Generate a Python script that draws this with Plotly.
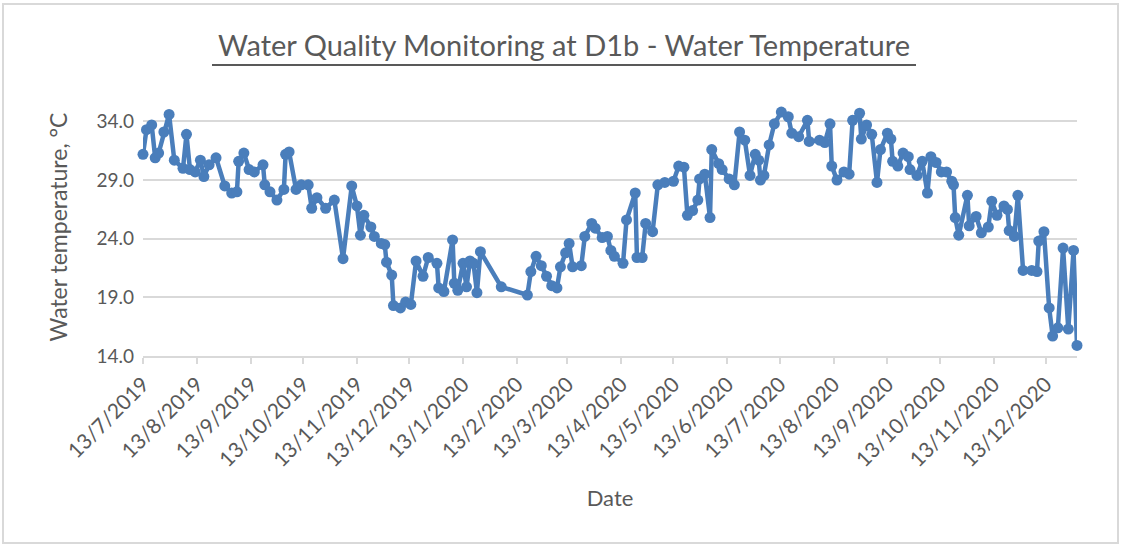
import plotly.graph_objects as go

dates = [
    "2019-07-13", "2019-07-15", "2019-07-18", "2019-07-20", "2019-07-22", "2019-07-25", "2019-07-28", "2019-07-31",
    "2019-08-05", "2019-08-07", "2019-08-09", "2019-08-12", "2019-08-15", "2019-08-17", "2019-08-20", "2019-08-24",
    "2019-08-29", "2019-09-02", "2019-09-05", "2019-09-06", "2019-09-09", "2019-09-12", "2019-09-15", "2019-09-20",
    "2019-09-21", "2019-09-24", "2019-09-28", "2019-10-02", "2019-10-03", "2019-10-05", "2019-10-09", "2019-10-12",
    "2019-10-16", "2019-10-18", "2019-10-21", "2019-10-26", "2019-10-31", "2019-11-05", "2019-11-10", "2019-11-13",
    "2019-11-15", "2019-11-17", "2019-11-21", "2019-11-23", "2019-11-27", "2019-11-29", "2019-11-30", "2019-12-03",
    "2019-12-04", "2019-12-08", "2019-12-11", "2019-12-14", "2019-12-17", "2019-12-21", "2019-12-24", "2019-12-29",
    "2019-12-30", "2020-01-02", "2020-01-07", "2020-01-08", "2020-01-10", "2020-01-13", "2020-01-15", "2020-01-17",
    "2020-01-19", "2020-01-21", "2020-01-23", "2020-02-04", "2020-02-19", "2020-02-21", "2020-02-24", "2020-02-27",
    "2020-03-01", "2020-03-04", "2020-03-07", "2020-03-09", "2020-03-12", "2020-03-14", "2020-03-16", "2020-03-21",
    "2020-03-23", "2020-03-27", "2020-03-29", "2020-04-02", "2020-04-05", "2020-04-07", "2020-04-09", "2020-04-14",
    "2020-04-16", "2020-04-21", "2020-04-22", "2020-04-25", "2020-04-27", "2020-05-01", "2020-05-04", "2020-05-08",
    "2020-05-13", "2020-05-16", "2020-05-19", "2020-05-21", "2020-05-24", "2020-05-27", "2020-05-28", "2020-05-31",
    "2020-06-03", "2020-06-04", "2020-06-08", "2020-06-10", "2020-06-14", "2020-06-17", "2020-06-20", "2020-06-23",
    "2020-06-26", "2020-06-29", "2020-07-01", "2020-07-02", "2020-07-04", "2020-07-07", "2020-07-10", "2020-07-14",
    "2020-07-18", "2020-07-20", "2020-07-24", "2020-07-29", "2020-07-30", "2020-08-05", "2020-08-08", "2020-08-11",
    "2020-08-12", "2020-08-15", "2020-08-19", "2020-08-22", "2020-08-24", "2020-08-28", "2020-08-29", "2020-09-01",
    "2020-09-04", "2020-09-07", "2020-09-09", "2020-09-13", "2020-09-15", "2020-09-16", "2020-09-19", "2020-09-22",
    "2020-09-25", "2020-09-26", "2020-09-30", "2020-10-03", "2020-10-06", "2020-10-08", "2020-10-11", "2020-10-14",
    "2020-10-17", "2020-10-20", "2020-10-21", "2020-10-22", "2020-10-24", "2020-10-29", "2020-10-30", "2020-11-03",
    "2020-11-06", "2020-11-10", "2020-11-12", "2020-11-15", "2020-11-19", "2020-11-21", "2020-11-22", "2020-11-25",
    "2020-11-27", "2020-11-30", "2020-12-05", "2020-12-08", "2020-12-09", "2020-12-12", "2020-12-15", "2020-12-17",
    "2020-12-20", "2020-12-23", "2020-12-26", "2020-12-29", "2020-12-31",
]

water_temp = [
    31.2, 33.3, 33.7, 30.9, 31.3, 33.1, 34.6, 30.7,
    30.0, 32.9, 29.9, 29.7, 30.7, 29.3, 30.3, 30.9,
    28.5, 27.9, 28.0, 30.6, 31.3, 29.9, 29.7, 30.3,
    28.6, 28.0, 27.3, 28.2, 31.2, 31.4, 28.2, 28.6,
    28.6, 26.6, 27.5, 26.6, 27.3, 22.3, 28.5, 26.8,
    24.3, 26.0, 25.0, 24.2, 23.6, 23.5, 22.0, 20.9,
    18.3, 18.1, 18.6, 18.4, 22.1, 20.8, 22.4, 21.9,
    19.8, 19.5, 23.9, 20.2, 19.6, 21.9, 19.9, 22.1,
    21.9, 19.4, 22.9, 19.9, 19.2, 21.2, 22.5, 21.7,
    20.8, 20.0, 19.8, 21.6, 22.8, 23.6, 21.6, 21.7,
    24.2, 25.3, 24.9, 24.1, 24.2, 23.0, 22.5, 21.9,
    25.6, 27.9, 22.4, 22.4, 25.3, 24.6, 28.6, 28.8,
    28.9, 30.2, 30.1, 26.0, 26.4, 27.3, 29.1, 29.5,
    25.8, 31.6, 30.4, 29.9, 29.1, 28.6, 33.1, 32.4,
    29.4, 31.2, 30.7, 29.0, 29.4, 32.0, 33.8, 34.8,
    34.4, 33.0, 32.7, 34.1, 32.3, 32.4, 32.2, 33.8,
    30.2, 29.0, 29.7, 29.5, 34.1, 34.7, 32.5, 33.7,
    32.9, 28.8, 31.6, 33.0, 32.5, 30.6, 30.2, 31.3,
    31.0, 29.9, 29.4, 30.6, 27.9, 31.0, 30.5, 29.7,
    29.7, 28.9, 28.6, 25.8, 24.3, 27.7, 25.1, 25.9,
    24.5, 25.0, 27.2, 26.0, 26.8, 26.5, 24.7, 24.2,
    27.7, 21.3, 21.3, 21.2, 23.8, 24.6, 18.1, 15.7,
    16.4, 23.2, 16.3, 23.0, 14.9,
]

tick_dates = [
    "2019-07-13", "2019-08-13", "2019-09-13", "2019-10-13", "2019-11-13", "2019-12-13",
    "2020-01-13", "2020-02-13", "2020-03-13", "2020-04-13", "2020-05-13", "2020-06-13",
    "2020-07-13", "2020-08-13", "2020-09-13", "2020-10-13", "2020-11-13", "2020-12-13",
]
tick_labels = [
    "13/7/2019", "13/8/2019", "13/9/2019", "13/10/2019", "13/11/2019", "13/12/2019",
    "13/1/2020", "13/2/2020", "13/3/2020", "13/4/2020", "13/5/2020", "13/6/2020",
    "13/7/2020", "13/8/2020", "13/9/2020", "13/10/2020", "13/11/2020", "13/12/2020",
]
y_ticks = [14, 19, 24, 29, 34]

title_text = "Water Quality Monitoring at D1b - Water Temperature"
x_title = "Date"
y_title = "Water temperature, °C"

FONT = "Lato"
TEXT_COLOR = "#595959"
GRID = "#d9d9d9"
BLUE = "#4a7ebb"

fig = go.Figure()
fig.add_trace(go.Scatter(
    x=dates, y=water_temp, mode="lines+markers",
    line=dict(color=BLUE, width=4.5),
    marker=dict(color=BLUE, size=11),
    cliponaxis=False,
    showlegend=False,
))

fig.update_layout(
    width=1122, height=546,
    margin=dict(l=143, r=45, t=98, b=190, autoexpand=False),
    paper_bgcolor="white", plot_bgcolor="white",
    font=dict(family=FONT, color=TEXT_COLOR),
    title=dict(text=title_text, x=564 / 1122, xref="container", xanchor="center",
               y=1 - 46 / 546, yref="container", yanchor="middle",
               font=dict(family=FONT, size=29, color=TEXT_COLOR)),
    xaxis=dict(
        type="date", range=["2019-07-13", "2020-12-31"],
        tickvals=tick_dates, ticktext=tick_labels, tickangle=-45,
        tickfont=dict(family=FONT, size=21, color=TEXT_COLOR),
        showgrid=False, showline=True, linecolor=GRID, linewidth=1.5,
        ticks="outside", ticklen=6, tickcolor=GRID, tickwidth=1.5,
        zeroline=False, automargin=False,
        title=dict(text=x_title, font=dict(family=FONT, size=22, color=TEXT_COLOR), standoff=21),
    ),
    yaxis=dict(
        range=[14, 36], tickvals=y_ticks, tickformat=".1f",
        tickfont=dict(family=FONT, size=19, color=TEXT_COLOR),
        showgrid=True, gridcolor=GRID, gridwidth=1.5,
        showline=False, zeroline=False, ticks="", ticklabelstandoff=8,
        automargin=False,
        title=dict(text=y_title, font=dict(family=FONT, size=23, color=TEXT_COLOR), standoff=22),
    ),
    shapes=[
        dict(type="line", xref="paper", yref="paper",
             x0=(212 - 143) / 934, x1=(916 - 143) / 934,
             y0=(356 - 65) / 258, y1=(356 - 65) / 258,
             line=dict(color=TEXT_COLOR, width=2)),
        dict(type="rect", xref="paper", yref="paper",
             x0=(3 - 143) / 934, x1=(1118 - 143) / 934,
             y0=(356 - 543) / 258, y1=(356 - 4) / 258,
             line=dict(color=GRID, width=2), fillcolor="rgba(0,0,0,0)", layer="below"),
    ],
)

fig.write_html("out.html", config={"displayModeBar": False},
               post_script="document.body.style.margin='0px';")
